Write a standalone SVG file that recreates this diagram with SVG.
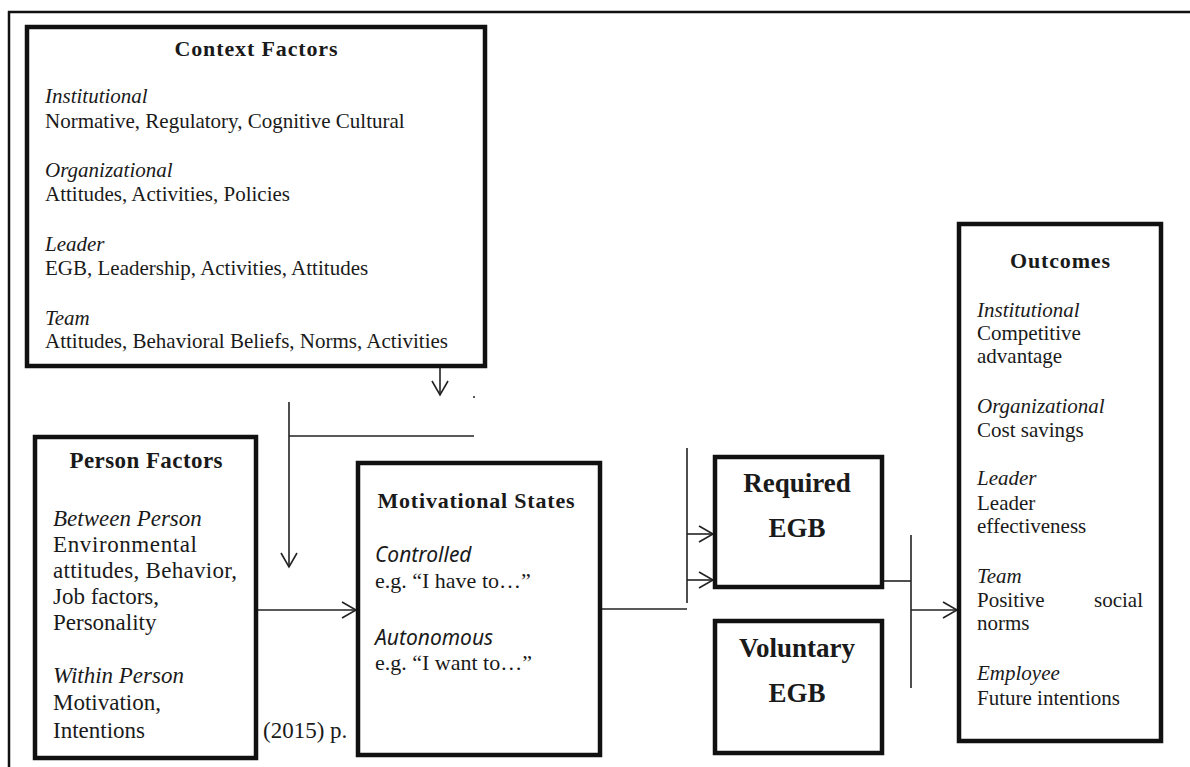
<svg xmlns="http://www.w3.org/2000/svg" width="1190" height="767" viewBox="0 0 1190 767">
<defs>
<style>
.box{fill:#fff;stroke:#111;stroke-width:4.5}
.frame{stroke:#111;stroke-width:2.5;fill:none}
.con{stroke:#222;stroke-width:1.6;fill:none}
text{font-family:"Liberation Serif","Times New Roman",serif;fill:#1a1a1a}
.t{font-weight:bold;text-anchor:middle}
.i{font-style:italic}
.s{font-family:"Noto Sans","DejaVu Sans",sans-serif;font-style:italic}
.c21{font-size:21px}
.c23{font-size:23px}
.c22{font-size:22px}
.big{font-size:27px;font-weight:bold;text-anchor:middle}
</style>
<marker id="arr" markerUnits="userSpaceOnUse" markerWidth="18" markerHeight="20" refX="15" refY="9" orient="auto">
<path d="M1,1 L15,9 L1,17" fill="none" stroke="#222" stroke-width="1.6"/>
</marker>
</defs>

<g id="frame">
<line class="frame" x1="8" y1="12" x2="1190" y2="12"/>
<line class="frame" x1="9" y1="11" x2="9" y2="767"/>
</g>

<g id="connectors">
<line class="con" x1="440" y1="368" x2="440" y2="395" marker-end="url(#arr)"/>
<circle cx="474" cy="397" r="1" fill="#222"/>
<line class="con" x1="289" y1="436" x2="474" y2="436"/>
<line class="con" x1="289" y1="402" x2="289" y2="567" marker-end="url(#arr)"/>
<line class="con" x1="258" y1="610" x2="356" y2="610" marker-end="url(#arr)"/>
<line class="con" x1="602" y1="609" x2="687" y2="609"/>
<line class="con" x1="687" y1="448" x2="687" y2="603"/>
<line class="con" x1="687" y1="534" x2="713" y2="534" marker-end="url(#arr)"/>
<line class="con" x1="687" y1="580" x2="713" y2="580" marker-end="url(#arr)"/>
<line class="con" x1="884" y1="581" x2="911" y2="581"/>
<line class="con" x1="911" y1="535" x2="911" y2="688"/>
<line class="con" x1="911" y1="610" x2="957" y2="610" marker-end="url(#arr)"/>
</g>

<g id="context">
<rect class="box" x="27" y="27" width="458" height="339"/>
<text class="t c22" x="256" y="56" textLength="163">Context Factors</text>
<text class="c21 i" x="45" y="103">Institutional</text>
<text class="c21" x="45" y="128">Normative, Regulatory, Cognitive Cultural</text>
<text class="c21 i" x="45" y="177">Organizational</text>
<text class="c21" x="45" y="201">Attitudes, Activities, Policies</text>
<text class="c21 i" x="45" y="251">Leader</text>
<text class="c21" x="45" y="275">EGB, Leadership, Activities,  Attitudes</text>
<text class="c21 i" x="45" y="325">Team</text>
<text class="c21" x="45" y="348">Attitudes, Behavioral Beliefs, Norms, Activities</text>
</g>

<g id="person">
<rect class="box" x="35" y="437" width="221" height="321"/>
<text class="t c23" x="146" y="468" textLength="153">Person Factors</text>
<text class="c23 i" x="53" y="526">Between Person</text>
<text class="c23" x="53" y="552" textLength="144">Environmental</text>
<text class="c23" x="53" y="578" textLength="184">attitudes, Behavior,</text>
<text class="c23" x="53" y="604">Job factors,</text>
<text class="c23" x="53" y="630">Personality</text>
<text class="c23 i" x="53" y="683">Within Person</text>
<text class="c23" x="53" y="710">Motivation,</text>
<text class="c23" x="53" y="738">Intentions</text>
</g>

<g id="citation">
<text class="c23" x="263" y="738">(2015) p.</text>
</g>

<g id="motivational">
<rect class="box" x="358" y="463" width="242" height="292"/>
<text class="t c22" x="476" y="508" textLength="197">Motivational States</text>
<text class="c21 s" x="375" y="562">Controlled</text>
<text class="c22" x="375" y="588">e.g. “I have to…”</text>
<text class="c21 s" x="375" y="645">Autonomous</text>
<text class="c22" x="375" y="670">e.g. “I want to…”</text>
</g>

<g id="required">
<rect class="box" x="715" y="457" width="167" height="130"/>
<text class="big" x="797" y="492">Required</text>
<text class="big" x="797" y="537">EGB</text>
</g>

<g id="voluntary">
<rect class="box" x="715" y="621" width="167" height="132"/>
<text class="big" x="797" y="657">Voluntary</text>
<text class="big" x="797" y="702">EGB</text>
</g>

<g id="outcomes">
<rect class="box" x="959" y="224" width="202" height="517"/>
<text class="t c22" x="1060" y="268" textLength="100">Outcomes</text>
<text class="c21 i" x="977" y="317">Institutional</text>
<text class="c21" x="977" y="340">Competitive</text>
<text class="c21" x="977" y="363">advantage</text>
<text class="c21 i" x="977" y="413">Organizational</text>
<text class="c21" x="977" y="437">Cost savings</text>
<text class="c21 i" x="977" y="485">Leader</text>
<text class="c21" x="977" y="510">Leader</text>
<text class="c21" x="977" y="533">effectiveness</text>
<text class="c21 i" x="977" y="583">Team</text>
<text class="c21" x="977" y="607">Positive</text>
<text class="c21" x="1143" y="607" text-anchor="end">social</text>
<text class="c21" x="977" y="630">norms</text>
<text class="c21 i" x="977" y="680">Employee</text>
<text class="c21" x="977" y="705">Future intentions</text>
</g>
</svg>
